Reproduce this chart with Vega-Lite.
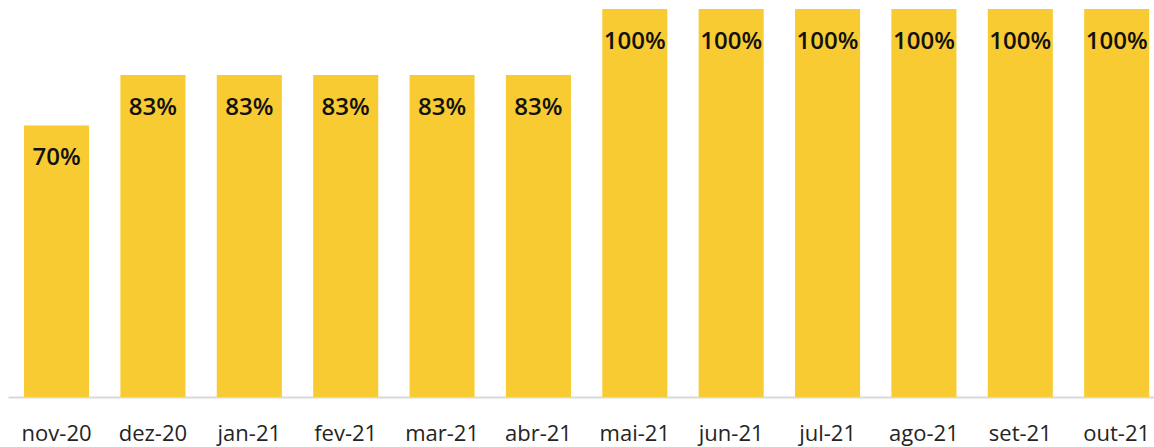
{
  "$schema": "https://vega.github.io/schema/vega-lite/v6.json",
  "width": 1146,
  "height": 388,
  "autosize": {"type": "none"},
  "padding": {"left": 8, "top": 9, "right": 0, "bottom": 50},
  "background": "white",
  "config": {"view": {"stroke": null}, "font": "Open Sans"},
  "data": {
    "values": [
      {"mes": "nov-20", "valor": 0.7},
      {"mes": "dez-20", "valor": 0.83},
      {"mes": "jan-21", "valor": 0.83},
      {"mes": "fev-21", "valor": 0.83},
      {"mes": "mar-21", "valor": 0.83},
      {"mes": "abr-21", "valor": 0.83},
      {"mes": "mai-21", "valor": 1.0},
      {"mes": "jun-21", "valor": 1.0},
      {"mes": "jul-21", "valor": 1.0},
      {"mes": "ago-21", "valor": 1.0},
      {"mes": "set-21", "valor": 1.0},
      {"mes": "out-21", "valor": 1.0}
    ]
  },
  "encoding": {
    "x": {
      "field": "mes",
      "type": "nominal",
      "sort": null,
      "scale": {"paddingInner": 0.325, "paddingOuter": 0.108, "align": 0.77},
      "axis": {
        "title": null,
        "labelAngle": 0,
        "labelFont": "Open Sans",
        "labelFontSize": 22,
        "labelColor": "#252423",
        "labelPadding": 26,
        "ticks": false,
        "domainColor": "#d9d9d9",
        "domainWidth": 2
      }
    },
    "y": {
      "field": "valor",
      "type": "quantitative",
      "scale": {"domain": [0, 1], "nice": false},
      "axis": null
    }
  },
  "layer": [
    {"mark": {"type": "bar", "color": "#F9CB32"}},
    {
      "mark": {
        "type": "text",
        "baseline": "middle",
        "dy": 33,
        "font": "Open Sans",
        "fontSize": 24,
        "fontWeight": 600,
        "color": "#111111"
      },
      "encoding": {
        "text": {"field": "valor", "type": "quantitative", "format": ".0%"}
      }
    }
  ]
}
